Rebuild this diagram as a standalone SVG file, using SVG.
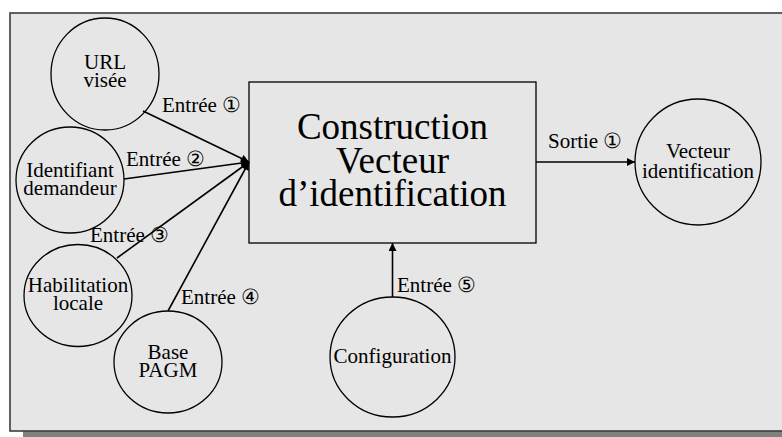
<svg xmlns="http://www.w3.org/2000/svg" width="782" height="437" viewBox="0 0 782 437">
  <style>
    .node { fill: none; stroke: #000; stroke-width: 1.3; }
    .lbl { font-family: "Liberation Serif", "DejaVu Serif", serif; font-size: 21px; fill: #000; text-anchor: middle; }
    .edge { stroke: #000; stroke-width: 1.6; fill: none; }
    .elbl { font-family: "Liberation Serif", "DejaVu Serif", serif; font-size: 21px; fill: #000; }
    .big { font-family: "Liberation Serif", "DejaVu Serif", serif; font-size: 37px; fill: #000; text-anchor: middle; }
  </style>
  <defs>
    <marker id="arrow" viewBox="0 0 10 10" refX="10" refY="5" markerWidth="10" markerHeight="8" markerUnits="userSpaceOnUse" orient="auto">
      <path d="M0,0 L10,5 L0,10 Z" fill="#000"/>
    </marker>
  </defs>
  <rect width="782" height="437" fill="#ffffff"/>
  <!-- drop shadow and frame -->
  <rect x="23" y="431" width="780" height="10" fill="#808080"/>
  <rect x="10" y="13" width="800" height="418" fill="#e6e6e6" stroke="#3c3c3c" stroke-width="1.6"/>

  <g id="connectors">
    <line class="edge" x1="143" y1="111" x2="249" y2="162" marker-end="url(#arrow)"/>
    <line class="edge" x1="124" y1="179" x2="249" y2="162" marker-end="url(#arrow)"/>
    <line class="edge" x1="117" y1="258" x2="249" y2="162" marker-end="url(#arrow)"/>
    <line class="edge" x1="168" y1="311" x2="249" y2="162" marker-end="url(#arrow)"/>
    <line class="edge" x1="392.5" y1="297" x2="392.5" y2="243" marker-end="url(#arrow)"/>
    <line class="edge" x1="536" y1="162" x2="635" y2="162" marker-end="url(#arrow)"/>
    <text class="elbl" x="162" y="112">Entrée ①</text>
    <text class="elbl" x="126" y="166">Entrée ②</text>
    <text class="elbl" x="90" y="242">Entrée ③</text>
    <text class="elbl" x="181" y="304">Entrée ④</text>
    <text class="elbl" x="397" y="292">Entrée ⑤</text>
    <text class="elbl" x="548" y="148">Sortie ①</text>
  </g>

  <g id="construction">
    <rect x="249" y="82" width="287" height="161" fill="none" stroke="#000" stroke-width="1.3"/>
    <text class="big" x="392.5" y="139">Construction</text>
    <text class="big" x="392.5" y="172.5">Vecteur</text>
    <text class="big" x="392.5" y="206">d’identification</text>
  </g>

  <g id="url">
    <ellipse class="node" cx="105" cy="74" rx="54" ry="56"/>
    <text class="lbl" x="105" y="69">URL</text>
    <text class="lbl" x="105" y="87">visée</text>
  </g>

  <g id="identifiant">
    <ellipse class="node" cx="70" cy="180" rx="54" ry="53"/>
    <text class="lbl" x="70" y="177">Identifiant</text>
    <text class="lbl" x="70" y="195">demandeur</text>
  </g>

  <g id="habilitation">
    <ellipse class="node" cx="78" cy="295.5" rx="54" ry="51"/>
    <text class="lbl" x="78" y="292">Habilitation</text>
    <text class="lbl" x="78" y="310">locale</text>
  </g>

  <g id="base">
    <ellipse class="node" cx="168" cy="362" rx="54" ry="51"/>
    <text class="lbl" x="168" y="359">Base</text>
    <text class="lbl" x="168" y="377">PAGM</text>
  </g>

  <g id="configuration">
    <ellipse class="node" cx="392.5" cy="357" rx="62.5" ry="60"/>
    <text class="lbl" x="392.5" y="363">Configuration</text>
  </g>

  <g id="vecteur">
    <ellipse class="node" cx="698" cy="162" rx="63" ry="63"/>
    <text class="lbl" x="698" y="158">Vecteur</text>
    <text class="lbl" x="698" y="178">identification</text>
  </g>
</svg>
